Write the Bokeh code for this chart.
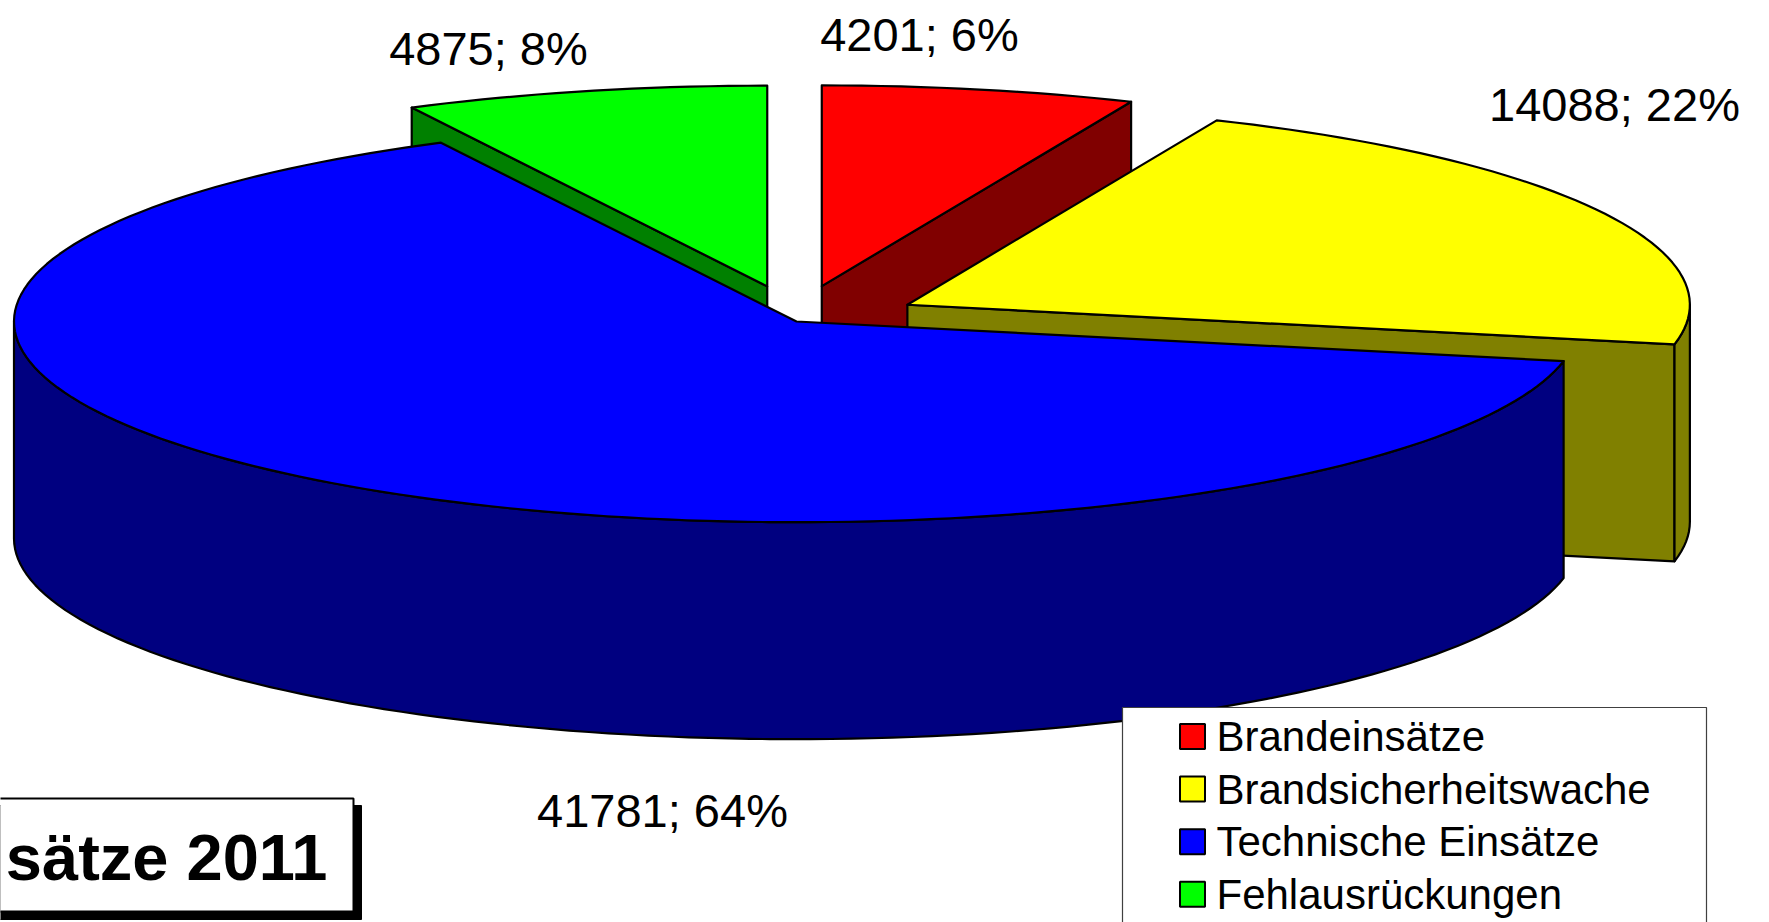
import math
from bokeh.plotting import figure
from bokeh.models import Range1d, ColumnDataSource
from bokeh.embed import file_html
from bokeh.resources import INLINE
from bokeh.core.properties import value

# ---------------- data ----------------
categories = ["Brandeinsätze", "Brandsicherheitswache", "Technische Einsätze", "Fehlausrückungen"]
counts = [4201, 14088, 41781, 4875]
top_colors = ["#FF0000", "#FFFF00", "#0000FF", "#00FF00"]
side_colors = ["#800000", "#808000", "#000080", "#008000"]
exploded = [True, True, False, True]
title_text = "sätze 2011"

# ---------------- layout (page pixels) ----------------
W, H = 1760, 922
CX, CY = 796.0, 321.0          # pie centre (top face)
RA, RB = 782.5, 200.7          # top ellipse semi axes
DEPTH = 217.0                  # thickness of the pie
EXP_X, EXP_Y = 0.16, 0.18      # explosion distance (fraction of radius)
LABEL_POS = [(919, 34), (1614, 104), (662, 810), (488, 48)]
FONT = "Liberation Sans"

p = figure(width=W, height=H, x_range=Range1d(0, W), y_range=Range1d(H, 0),
           output_backend="svg", toolbar_location=None, min_border=0)
p.axis.visible = False
p.grid.visible = False
p.outline_line_color = None
p.background_fill_color = "white"
p.border_fill_color = "white"

total = float(sum(counts))
fracs = [c / total for c in counts]
starts, ends = [], []
acc = 0.0
for f in fracs:
    starts.append(acc * 2 * math.pi)
    acc += f
    ends.append(acc * 2 * math.pi)


def pt(cx, cy, th, dz=0.0):
    return cx + RA * math.sin(th), cy - RB * math.cos(th) + dz


def arc(cx, cy, t1, t2, dz=0.0, n=240):
    k = max(2, int(n * abs(t2 - t1) / (2 * math.pi)) + 2)
    xs, ys = [], []
    for i in range(k):
        t = t1 + (t2 - t1) * i / (k - 1)
        x, y = pt(cx, cy, t, dz)
        xs.append(x)
        ys.append(y)
    return xs, ys


slices = []
for i in range(len(counts)):
    m = (starts[i] + ends[i]) / 2
    if exploded[i]:
        cx = CX + EXP_X * RA * math.sin(m)
        cy = CY - EXP_Y * RB * math.cos(m)
    else:
        cx, cy = CX, CY
    slices.append((cy, i, cx))
slices.sort()

fx, fy, fc = [], [], []
for cy, i, cx in slices:
    s, e = starts[i], ends[i]
    # radial faces visible to the viewer
    for th, vis in ((s, math.sin(s) < -1e-6), (e, math.sin(e) > 1e-6)):
        if vis:
            ex, ey = pt(cx, cy, th)
            fx.append([cx, ex, ex, cx])
            fy.append([cy, ey, ey + DEPTH, cy + DEPTH])
            fc.append(side_colors[i])
    # front outer wall
    a1, a2 = max(s, math.pi / 2), min(e, 3 * math.pi / 2)
    if a2 > a1:
        tx, ty = arc(cx, cy, a1, a2)
        bx, by = arc(cx, cy, a1, a2, DEPTH)
        fx.append(tx + bx[::-1])
        fy.append(ty + by[::-1])
        fc.append(side_colors[i])
    # top face
    tx, ty = arc(cx, cy, s, e)
    fx.append([cx] + tx)
    fy.append([cy] + ty)
    fc.append(top_colors[i])

p.patches(xs="xs", ys="ys", fill_color="c", line_color="black", line_width=2.2,
          line_join="round", source=ColumnDataSource(dict(xs=fx, ys=fy, c=fc)))

# data labels
labels = [f"{c}; {round(100 * f)}%" for c, f in zip(counts, fracs)]
p.text(x=[q[0] for q in LABEL_POS], y=[q[1] for q in LABEL_POS], text=labels,
       text_font=value(FONT), text_font_size="47px", text_color="black",
       text_align="center", text_baseline="middle")

# legend
LX1, LX2, LY1, LY2 = 1122, 1706, 707, 960
p.quad(left=[LX1], right=[LX2], top=[LY1], bottom=[LY2], fill_color="white",
       line_color="#404040", line_width=1.2)
row_y = [736 + 52.6 * k for k in range(len(categories))]
p.rect(x=[1192] * len(categories), y=row_y, width=25, height=25,
       fill_color=top_colors, line_color="black", line_width=2)
p.text(x=[1216] * len(categories), y=row_y, text=categories,
       text_font=value(FONT), text_font_size="42px", text_color="black",
       text_align="left", text_baseline="middle")

# title box with shadow
p.quad(left=[-20], right=[361], top=[805], bottom=[919], fill_color="black", line_color="black")
p.quad(left=[-20], right=[353], top=[798], bottom=[911], fill_color="white",
       line_color="black", line_width=2)
p.text(x=[327], y=[857], text=[title_text], text_font=value(FONT), text_font_size="65px",
       text_font_style="bold", text_color="black", text_align="right", text_baseline="middle")

open("out.html", "w").write(file_html(p, INLINE))
